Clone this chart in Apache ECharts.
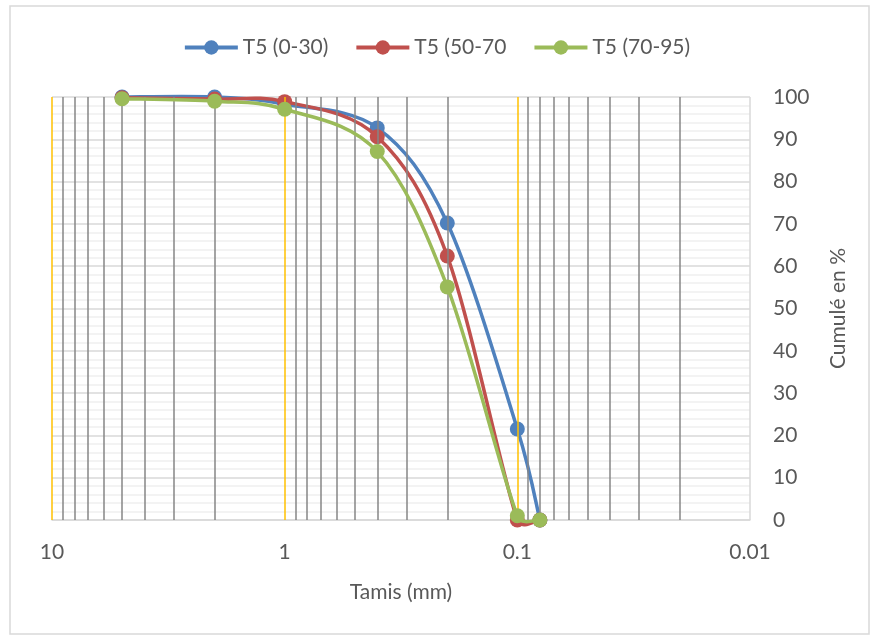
<!DOCTYPE html>
<html>
<head>
<meta charset="utf-8">
<script src="https://cdn.jsdelivr.net/npm/echarts@6/dist/echarts.min.js"></script>
<style>
html,body{margin:0;padding:0;background:#fff;}
#chart{width:873px;height:637px;}
</style>
</head>
<body>
<div id="chart"></div>
<script>
// Data
var sieveSizes = [5, 2, 1, 0.4, 0.2, 0.1, 0.08];
var seriesNames = ['T5 (0-30)', 'T5 (50-70', 'T5 (70-95)'];
var valuesA = [100, 100, 98.3, 92.7, 70.2, 21.5, 0];
var valuesB = [99.8, 99.5, 98.9, 90.6, 62.4, 0, 0];
var valuesC = [99.6, 99.0, 97.1, 87.1, 55.1, 1, 0];
var majorLines = [10, 1, 0.1];
var minorLines = [9, 8, 7, 6, 5, 4, 3, 2, 0.9, 0.8, 0.7, 0.6, 0.5, 0.4, 0.3, 0.2,
                  0.09, 0.08, 0.07, 0.06, 0.05, 0.04, 0.03, 0.02];
var edgeLines = [0.01];
var xTickLabels = {10: '10', 1: '1', 0.1: '0.1', 0.01: '0.01'};

function pairs(vals) {
  return sieveSizes.map(function (s, i) { return [s, vals[i]]; });
}

var FONT = 'Lato';
var FS = 21;
var TXT = '#595959';
var colors = ['#4F81BD', '#C0504D', '#9BBB59'];

var chart = echarts.init(document.getElementById('chart'));

function dist(a, b) { return Math.hypot(a[0] - b[0], a[1] - b[1]); }

// Excel-like smoothed curve through points given in pixel space
function splinePath(p) {
  var d = 'M' + p[0][0] + ' ' + p[0][1];
  var n = p.length;
  for (var i = 0; i < n - 1; i++) {
    var p0 = p[i - 1] || p[i], p1 = p[i], p2 = p[i + 1], p3 = p[i + 2] || p[i + 1];
    var d12 = dist(p1, p2), d02 = dist(p0, p2), d13 = dist(p1, p3);
    var f0 = 1 / 6, f1 = 1 / 6;
    if (d02 / 6 >= d12 / 2 && d02 > 0) f0 = d12 / 2 / d02;
    if (d13 / 6 >= d12 / 2 && d13 > 0) f1 = d12 / 2 / d13;
    var c1 = [p1[0] + f0 * (p2[0] - p0[0]), p1[1] + f0 * (p2[1] - p0[1])];
    var c2 = [p2[0] - f1 * (p3[0] - p1[0]), p2[1] - f1 * (p3[1] - p1[1])];
    d += ' C' + c1[0] + ' ' + c1[1] + ' ' + c2[0] + ' ' + c2[1] + ' ' + p2[0] + ' ' + p2[1];
  }
  return d;
}

function curveSeries(vals, color, z) {
  return {
    name: '_curve' + z,
    type: 'custom',
    data: pairs(vals),
    encode: {x: 0, y: 1},
    z: z,
    silent: true,
    renderItem: function (params, api) {
      if (params.dataIndex !== 0) return null;
      var pts = sieveSizes.map(function (s, i) { return api.coord([s, vals[i]]); });
      return {
        type: 'path',
        shape: {pathData: splinePath(pts)},
        style: {stroke: color, lineWidth: 3.5, fill: 'none', lineJoin: 'round', lineCap: 'round'}
      };
    }
  };
}

function markerSeries(name, vals, color, z) {
  return {
    name: name,
    type: 'line',
    data: pairs(vals),
    symbol: 'circle',
    symbolSize: 15,
    z: z,
    itemStyle: {color: color},
    lineStyle: {color: color, width: 3.5, opacity: 0},
    emphasis: {disabled: true}
  };
}

var option = {
  animation: false,
  textStyle: {fontFamily: FONT},
  graphic: [{
    type: 'rect',
    shape: {x: 10, y: 6, width: 859, height: 628},
    style: {fill: 'none', stroke: '#d9d9d9', lineWidth: 1.5},
    silent: true
  }],
  legend: {
    top: 32,
    left: 'center',
    itemWidth: 53,
    itemHeight: 18,
    itemGap: 26,
    data: seriesNames,
    lineStyle: {width: 4, opacity: 1},
    textStyle: {fontFamily: FONT, fontSize: FS, color: TXT}
  },
  grid: {left: 52, right: 123, top: 97, bottom: 117, containLabel: false},
  xAxis: {
    type: 'log',
    logBase: 10,
    min: 0.01,
    max: 10,
    inverse: true,
    name: 'Tamis (mm)',
    nameLocation: 'middle',
    nameGap: 62,
    nameTextStyle: {fontFamily: FONT, fontSize: FS, color: TXT},
    axisLine: {show: true, lineStyle: {color: '#d9d9d9', width: 1.5}},
    axisTick: {show: false},
    splitLine: {show: false},
    axisLabel: {
      margin: 22,
      fontFamily: FONT, fontSize: FS, color: TXT,
      formatter: function (v) {
        var k = Object.keys(xTickLabels).find(function (key) { return Math.abs(+key - v) / v < 1e-6; });
        return k !== undefined ? xTickLabels[k] : '';
      }
    }
  },
  yAxis: {
    type: 'value',
    position: 'right',
    min: 0,
    max: 100,
    interval: 10,
    name: 'Cumulé en %',
    nameLocation: 'middle',
    nameRotate: 90,
    nameGap: 78,
    nameTextStyle: {fontFamily: FONT, fontSize: FS, color: TXT},
    axisLine: {show: false},
    axisTick: {show: false},
    axisLabel: {margin: 23, fontFamily: FONT, fontSize: FS, color: TXT},
    splitLine: {show: true, lineStyle: {color: '#d9d9d9', width: 1.5}},
    minorTick: {show: false, splitNumber: 5},
    minorSplitLine: {show: true, lineStyle: {color: '#efefef', width: 1.5}}
  },
  series: [
    {
      name: '_gridlines',
      type: 'line',
      data: [],
      z: 1,
      silent: true,
      markLine: {
        silent: true,
        symbol: ['none', 'none'],
        label: {show: false},
        animation: false,
        data: minorLines.map(function (v) {
          return {xAxis: v, lineStyle: {color: '#868686', width: 1.5, type: 'solid'}};
        }).concat(majorLines.map(function (v) {
          return {xAxis: v, lineStyle: {color: '#FFC000', width: 1.5, type: 'solid'}};
        })).concat(edgeLines.map(function (v) {
          return {xAxis: v, lineStyle: {color: '#d9d9d9', width: 1.5, type: 'solid'}};
        }))
      }
    },
    curveSeries(valuesA, colors[0], 3),
    markerSeries(seriesNames[0], valuesA, colors[0], 3),
    curveSeries(valuesB, colors[1], 4),
    markerSeries(seriesNames[1], valuesB, colors[1], 4),
    curveSeries(valuesC, colors[2], 5),
    markerSeries(seriesNames[2], valuesC, colors[2], 5)
  ]
};
chart.setOption(option);
</script>
</body>
</html>
